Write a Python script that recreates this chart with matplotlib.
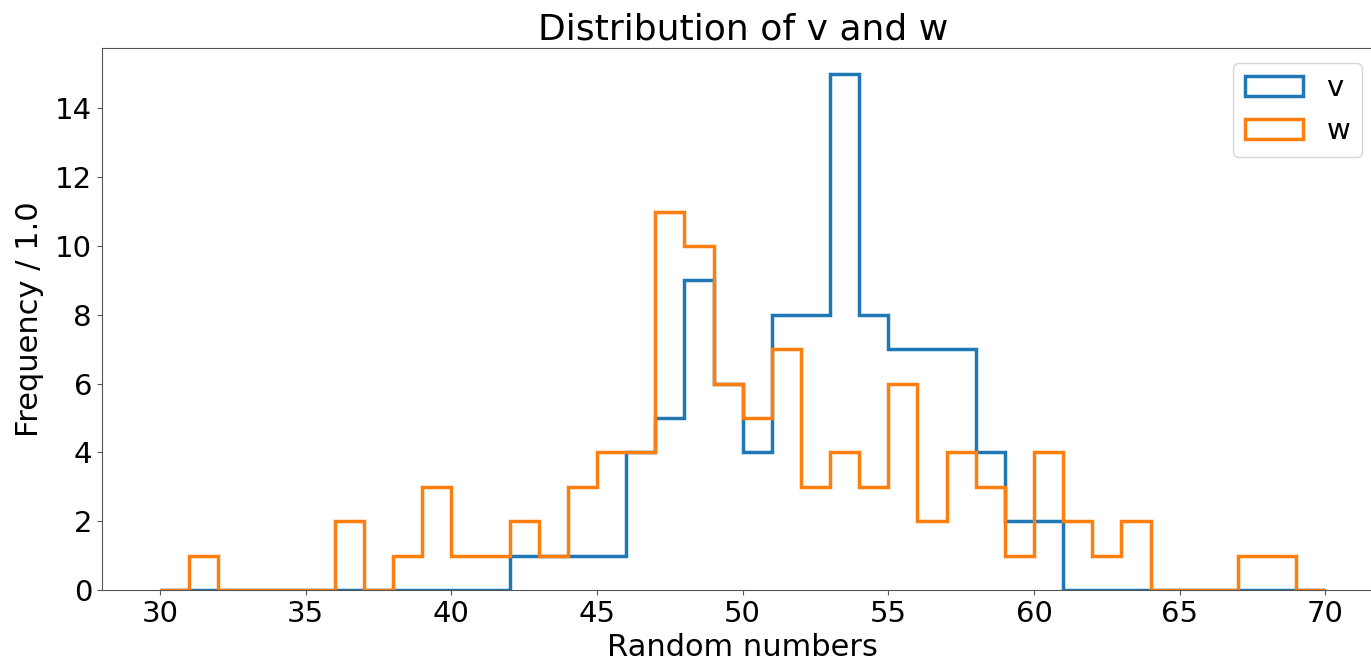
import numpy as np
import matplotlib
matplotlib.use("Agg")
import matplotlib.pyplot as plt

edges = np.arange(30, 71, 1)
v_counts = [0]*12 + [1, 1, 1, 1, 4, 5, 9, 6, 4, 8, 8, 15, 8, 7, 7, 7, 4, 2, 2] + [0]*9
w_counts = [0, 1, 0, 0, 0, 0, 2, 0, 1, 3, 1, 1, 2, 1, 3, 4, 4, 11, 10, 6,
            5, 7, 3, 4, 3, 6, 2, 4, 3, 1, 4, 2, 1, 2, 0, 0, 0, 1, 1, 0]

fig = plt.figure(figsize=(13.71, 6.64), dpi=100)
ax = fig.add_axes([0.0742, 0.1114, 0.935, 0.816])
centers = edges[:-1] + 0.5
ax.hist(centers, bins=edges, weights=v_counts, histtype='step', lw=2.5, label='v', color='#1f77b4')
ax.hist(centers, bins=edges, weights=w_counts, histtype='step', lw=2.5, label='w', color='#ff7f0e')
ax.set_xlim(28, 72)
ax.set_ylim(0, 15.75)
ax.set_yticks(range(0, 15, 2))
ax.tick_params(labelsize=21, color='#555555')
for s in ax.spines.values():
    s.set_color('#555555')
ax.set_title('Distribution of v and w', fontsize=26)
ax.set_xlabel('Random numbers', fontsize=22)
ax.set_ylabel('Frequency / 1.0', fontsize=22, labelpad=8)
ax.legend(fontsize=21, loc='upper right', bbox_to_anchor=(0.9944, 1.0))
fig.savefig('out.png', dpi=100)
